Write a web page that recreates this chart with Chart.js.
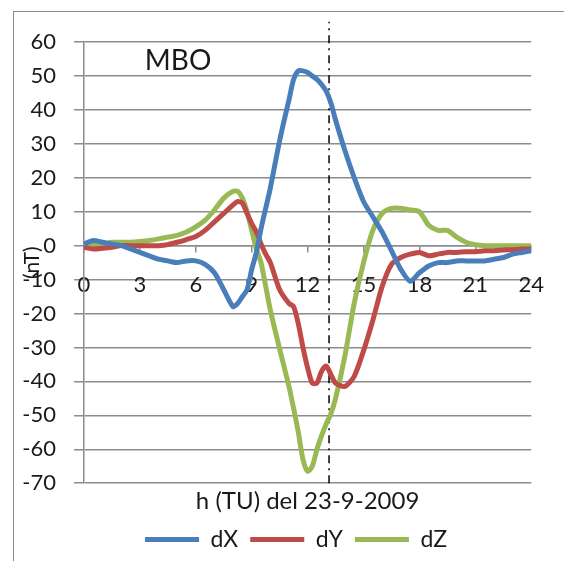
<!DOCTYPE html>
<html>
<head>
<meta charset="utf-8">
<script src="https://cdn.jsdelivr.net/npm/chart.js@4/dist/chart.umd.min.js"></script>
<style>
  html, body { margin: 0; padding: 0; background: #fff; }
  #frame { position: absolute; left: 13px; top: 11px; width: 551px; height: 550px;
           border-left: 1px solid #8c8c8c; border-top: 1px solid #8c8c8c; }
  #wrap { position: absolute; left: 0; top: 0; width: 564px; height: 561px; }
</style>
</head>
<body>
<div id="frame"></div>
<div id="wrap"><canvas id="chart"></canvas></div>
<script>
// hours (TU) of 23-9-2009
const hours = [0, 0.5, 1, 1.5, 2, 2.5, 3, 3.5, 4, 4.5, 5, 5.5, 6, 6.5, 7, 7.5, 8,
  8.25, 8.5, 8.75, 9, 9.25, 9.5, 9.75, 10, 10.5, 11,
  11.25, 11.5, 11.75, 12, 12.25, 12.5, 12.75, 13, 13.25, 13.5,
  14, 14.5, 15, 15.5, 16, 16.5, 17, 17.5, 18, 18.5, 19, 19.5, 20, 20.5, 21, 21.5, 22, 22.5, 23, 23.5, 24];

const dX = [0.5, 1.5, 1, 0.5, 0, -1, -2, -3, -4, -4.5, -5, -4.5, -4.5, -5.5, -8, -13, -18,
  -17, -15, -13, -7, -2, 5, 11, 17, 31, 43,
  49, 51.5, 51.5, 51, 50, 49, 47.5, 45.5, 42, 37,
  28, 20, 13, 8.5, 4, -1.5, -7, -10.5, -8, -6, -5, -5, -4.5, -4.5, -4.5, -4.5, -4, -3.5, -2.5, -2, -1.5];

const dY = [-0.5, -1, -0.8, -0.5, 0, 0, 0, 0, 0, 0.3, 1, 1.8, 2.7, 4.5, 7, 9.5, 12,
  13, 12.5, 9.5, 6.5, 4, 0.5, -2.5, -5, -13, -17,
  -18, -23, -30, -36, -40.5, -40.5, -37, -35.5, -38, -40.5,
  -41.5, -38.5, -31, -22, -12, -5.5, -3.5, -2.5, -2, -3, -2.5, -2, -2, -1.8, -1.8, -1.5, -1.5, -1.3, -1.2, -1, -1];

const dZ = [0, 0.3, 0.5, 1, 1, 1, 1.2, 1.5, 2, 2.5, 3, 4, 5.5, 7.5, 10.5, 14, 16,
  16, 14, 10, 4.5, -1, -5, -12, -19, -30.5, -41.5,
  -48, -55, -63, -66.5, -65, -60, -56, -52.5, -49.5, -45,
  -32.5, -17, -5, 4.5, 9.5, 11, 11, 10.5, 10, 6, 4.5, 4.5, 2.5, 1, 0.3, 0, 0, 0, 0, 0, 0];

// vertical dash-dot marker
const markerHour = 13.15;
const markerRange = [-70, 66];

const seriesNames = ['dX', 'dY', 'dZ'];
const seriesColors = ['#4a7ebb', '#be4b48', '#98b954'];
const stationName = 'MBO';
const xTitle = 'h (TU) del 23-9-2009';
const yTitle = '(nT)';

const textColor = '#1a1a1a';
const gridColor = '#8c8c8c';
Chart.defaults.font.family = 'Lato, "Open Sans", sans-serif';
Chart.defaults.color = textColor;

const series = [dX, dY, dZ];
const datasets = series.map((vals, i) => ({
  label: seriesNames[i],
  data: hours.map((h, j) => ({ x: h, y: vals[j] })),
  borderColor: seriesColors[i],
  backgroundColor: seriesColors[i],
  borderWidth: 5,
  pointRadius: 0,
  pointStyle: 'line',
  tension: 0.25,
}));
datasets.push({
  label: 'marker',
  data: markerRange.map((v) => ({ x: markerHour, y: v })),
  borderColor: '#000',
  borderWidth: 1.5,
  borderDash: [8, 5, 2, 5],
  pointRadius: 0,
  clip: false,
});

const labelsPlugin = {
  id: 'extraLabels',
  afterLayout(chart) {
    // legend sits a bit right of the canvas centre, like the original
    chart.legend.left += 51;
  },
  beforeDraw(chart) {
    const { ctx, scales } = chart;
    ctx.save();
    ctx.translate(chart.chartArea.left - 52, scales.y.getPixelForValue(-5));
    ctx.rotate(-Math.PI / 2);
    ctx.font = '21px Lato';
    ctx.fillStyle = textColor;
    ctx.textAlign = 'center';
    ctx.textBaseline = 'middle';
    ctx.fillText(yTitle, 0, 0);
    ctx.restore();
  },
  afterDatasetsDraw(chart) {
    const { ctx, scales } = chart;
    ctx.save();
    ctx.font = '28px Lato';
    ctx.fillStyle = textColor;
    ctx.textAlign = 'center';
    ctx.textBaseline = 'middle';
    ctx.fillText(stationName, scales.x.getPixelForValue(5.05), scales.y.getPixelForValue(54.5));
    ctx.restore();
  },
};

new Chart(document.getElementById('chart'), {
  type: 'line',
  data: { datasets },
  plugins: [labelsPlugin],
  options: {
    responsive: true,
    maintainAspectRatio: false,
    animation: false,
    layout: { padding: { left: 0, top: 42, right: 23, bottom: 0 } },
    plugins: {
      tooltip: { enabled: false },
      title: {
        display: true,
        position: 'bottom',
        fullSize: false,
        weight: 500,
        text: xTitle,
        color: textColor,
        font: { size: 24, weight: 'normal' },
        padding: { top: 4, bottom: 0 },
      },
      legend: {
        position: 'bottom',
        labels: {
          usePointStyle: true,
          pointStyleWidth: 54,
          boxHeight: 5,
          padding: 12,
          color: textColor,
          font: { size: 23 },
          filter: (item) => seriesNames.includes(item.text),
        },
      },
    },
    scales: {
      x: {
        type: 'linear',
        position: { y: 0 },
        min: 0,
        max: 24,
        ticks: { stepSize: 3, padding: 20, color: textColor, font: { size: 22 }, maxRotation: 0 },
        grid: { drawOnChartArea: false, drawTicks: true, tickLength: 6, color: gridColor, lineWidth: 1.5 },
        border: { display: true, color: gridColor, width: 1.5 },
      },
      y: {
        min: -70,
        max: 60,
        ticks: { stepSize: 10, padding: 18, color: textColor, font: { size: 22 } },
        grid: { color: gridColor, lineWidth: 1.5, tickLength: 10 },
        border: { display: true, color: gridColor, width: 1.5 },
        afterFit: (scale) => { scale.width = 84; },
      },
    },
  },
});
</script>
</body>
</html>
